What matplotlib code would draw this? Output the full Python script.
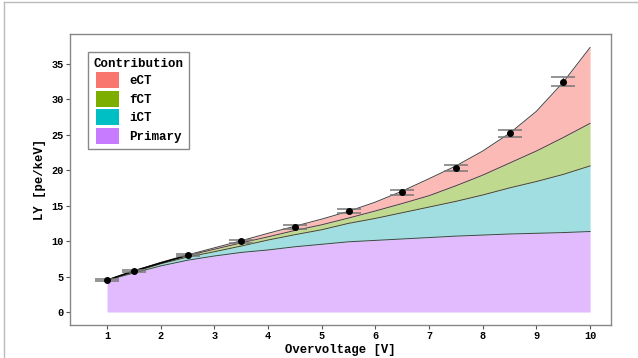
import matplotlib
matplotlib.use("Agg")
import matplotlib.pyplot as plt
from matplotlib.lines import Line2D
from matplotlib.patches import Patch

# Overvoltage grid (V) at which the stacked contributions were read
ov = [1.0, 1.5, 2.0, 2.5, 3.0, 3.5, 4.0, 4.5, 5.0, 5.5, 6.0, 6.5, 7.0, 7.5, 8.0, 8.5, 9.0, 9.5, 10.0]
# cumulative tops of each stacked layer (pe/keV)
primary_top = [4.5, 5.5, 6.5, 7.3, 7.9, 8.4, 8.75, 9.2, 9.55, 9.9, 10.1, 10.3, 10.5, 10.7, 10.85, 11.0, 11.1, 11.2, 11.35]
ict_top = [4.5, 5.65, 6.8, 7.75, 8.5, 9.3, 10.15, 10.9, 11.6, 12.5, 13.2, 14.0, 14.8, 15.6, 16.5, 17.5, 18.4, 19.4, 20.6]
fct_top = [4.5, 5.75, 6.95, 7.95, 8.85, 9.75, 10.6, 11.5, 12.3, 13.25, 14.25, 15.3, 16.4, 17.8, 19.3, 21.0, 22.7, 24.6, 26.6]
ect_top = [4.5, 5.8, 7.0, 8.05, 9.05, 10.05, 11.1, 12.1, 13.1, 14.2, 15.5, 17.05, 18.8, 20.6, 22.7, 25.2, 28.3, 32.4, 37.3]

# measured light yield points
meas_x = [1.0, 1.5, 2.5, 3.5, 4.5, 5.5, 6.5, 7.5, 8.5, 9.5]
meas_y = [4.5, 5.8, 8.0, 10.0, 12.0, 14.25, 16.9, 20.3, 25.2, 32.5]
meas_err = [0.1, 0.12, 0.16, 0.2, 0.25, 0.3, 0.35, 0.4, 0.5, 0.65]

labels = ["eCT", "fCT", "iCT", "Primary"]
colors = ["#F8766D", "#7CAE00", "#00BFC4", "#C77CFF"]
fill_colors = ["#FBBAB5", "#BFD98F", "#A0DEE1", "#E2BBFF"]

plt.rcParams["font.family"] = ["Liberation Mono", "DejaVu Sans Mono"]
plt.rcParams["font.weight"] = "bold"

fig = plt.figure(figsize=(6.38, 3.58), dpi=100)
ax = fig.add_axes([70/638, 1-325/358, (611-70)/638, (325-34)/358])

zero = [0.0]*len(ov)
layers = [(zero, primary_top, fill_colors[3]), (primary_top, ict_top, fill_colors[2]),
          (ict_top, fct_top, fill_colors[1]), (fct_top, ect_top, fill_colors[0])]
for lo, hi, c in layers:
    ax.fill_between(ov, lo, hi, color=c, linewidth=0)
for top in [primary_top, ict_top, fct_top, ect_top]:
    ax.plot(ov, top, color="#444444", lw=0.7)

ax.plot(meas_x[:3], meas_y[:3], color="black", lw=1.0)
ax.errorbar(meas_x, meas_y, yerr=meas_err, fmt="o", color="black", ms=4,
            ecolor="#777777", elinewidth=1.0, capsize=8.5, capthick=1.1, zorder=5)

ax.set_xlim(0.31, 10.39)
ax.set_ylim(-1.83, 39.2)
ax.set_xticks(range(1, 11))
ax.set_yticks(range(0, 36, 5))
ax.tick_params(axis="both", labelsize=7.4, length=3, width=0.8, color="#555555", pad=1.5)
for lab in ax.get_xticklabels() + ax.get_yticklabels():
    lab.set_fontweight("bold")
for s in ax.spines.values():
    s.set_color("#888888")
    s.set_linewidth(1.0)

ax.set_xlabel("Overvoltage [V]", fontsize=8.8, fontweight="bold", labelpad=2)
ax.set_ylabel("LY [pe/keV]", fontsize=8.8, fontweight="bold", labelpad=4)

handles = [Patch(facecolor=c, edgecolor="none") for c in colors]
leg = ax.legend(handles, labels, title="Contribution", loc="upper left",
                bbox_to_anchor=(0.022, 0.96), fancybox=False, framealpha=1,
                edgecolor="#888888", prop={"size": 9, "weight": "bold"},
                title_fontproperties={"size": 9, "weight": "bold"},
                handlelength=1.9, handleheight=1.6, labelspacing=0.2,
                borderpad=0.45, handletextpad=0.8)
leg.get_frame().set_linewidth(1.0)

# figure border (top and left)
fig.add_artist(Line2D([3.5/638, 3.5/638], [0, 1-1.5/358], color="#BBBBBB", lw=1.0, transform=fig.transFigure))
fig.add_artist(Line2D([3.5/638, 1], [1-1.5/358, 1-1.5/358], color="#BBBBBB", lw=1.0, transform=fig.transFigure))

fig.savefig("out.png", dpi=100)
